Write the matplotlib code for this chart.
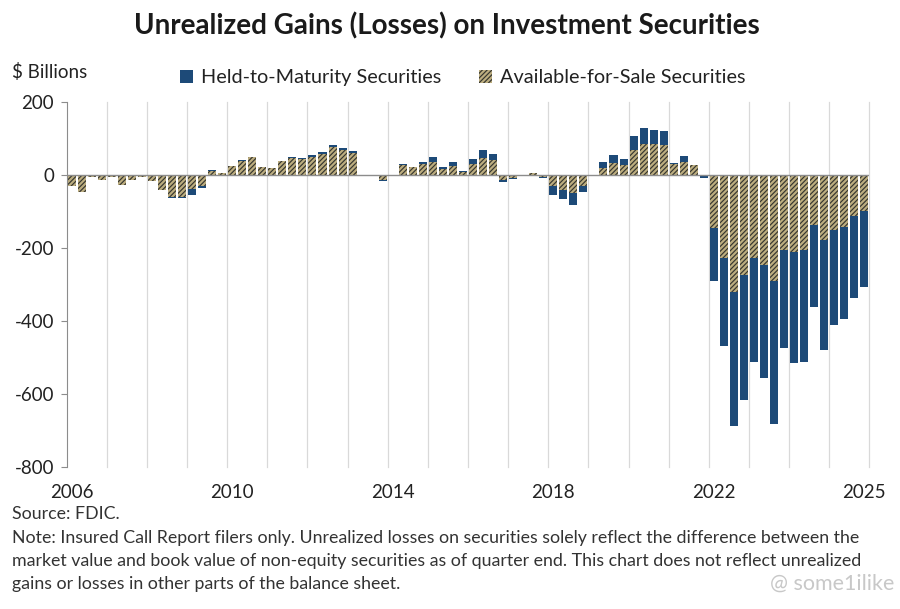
import numpy as np
import matplotlib.pyplot as plt
from matplotlib.patches import Patch

plt.rcParams['font.family'] = ['Lato', 'DejaVu Sans']
plt.rcParams['hatch.linewidth'] = 0.85
plt.rcParams['axes.unicode_minus'] = False

# quarterly data, 2006Q1 .. 2025Q4, $ billions
quarters = [f"{y}Q{q}" for y in range(2006, 2026) for q in range(1, 5)]

afs = [-30, -46, -5, -14, -6, -27, -15, -5, -18, -43, -62, -60, -40, -32, 11, 4,
       23, 39, 48, 21, 18, 37, 47, 44, 50, 56, 75, 68, 60, -3, -3, -15,
       -3, 27, 20, 30, 36, 17, 23, 8, 30, 46, 40, -14, -8, -2, 4, -6,
       -32, -41, -50, -32, -2, 18, 33, 28, 67, 85, 85, 82, 29, 36, 26, -3,
       -146, -228, -320, -274, -228, -247, -292, -205, -210, -205, -137, -178, -151, -142, -114, -100]

htm = [0, 0, 0, 0, 0, 0, 0, 0, 0, 0, -2, -4, -15, -5, 1, 1,
       1, 1, 1, 1, 1, 1, 2, 2, 4, 5, 6, 5, 4, -1, -1, -3,
       -1, 3, 2, 5, 12, 3, 12, 2, 14, 22, 18, -6, -4, 0, 1, -2,
       -23, -25, -32, -14, -1, 17, 20, 16, 38, 43, 38, 37, 3, 16, 2, -5,
       -146, -240, -367, -342, -283, -310, -391, -270, -304, -306, -225, -302, -260, -253, -222, -206]

tick_pos = [0, 16, 32, 48, 64, 79]
tick_lbl = ["2006", "2010", "2014", "2018", "2022", "2025"]

HTM_COL = "#1d4a78"
AFS_FACE = "#bcad7f"
AFS_HATCH = "#36362f"
GRID = "#d9d9d9"
AXC = "#8c8c8c"

afs = np.array(afs, dtype=float)
htm = np.array(htm, dtype=float)
x = np.arange(len(quarters))
bottom = np.where(np.sign(htm) == np.sign(afs), afs, 0)

fig = plt.figure(figsize=(9, 6.09), dpi=100)
ax = fig.add_axes([0.074, 0.233, 0.892, 0.600])

for k in range(1, 21):
    ax.axvline(4 * k - 0.5, color=GRID, lw=0.9, zorder=0, clip_on=False)

ax.bar(x, afs, width=0.8, color=AFS_FACE, edgecolor=AFS_HATCH, hatch="///////", lw=0, zorder=2)
ax.bar(x, htm, width=0.8, bottom=bottom, color=HTM_COL, lw=0, zorder=2)
ax.axhline(0, color=AXC, lw=1.0, zorder=3)

ax.set_xlim(-0.5, 79.5)
ax.set_ylim(-800, 200)
ax.set_yticks(range(-800, 201, 200))
ax.set_xticks(tick_pos)
ax.set_xticklabels(tick_lbl)
ax.tick_params(axis="x", length=0, labelsize=13.5, pad=12, colors="#222222")
ax.tick_params(axis="y", length=4, color=AXC, labelsize=13.5, pad=5, labelcolor="#222222")
for s in ["top", "right", "bottom"]:
    ax.spines[s].set_visible(False)
ax.spines["left"].set_color(AXC)

fig.text(0.497, 0.958, "Unrealized Gains (Losses) on Investment Securities",
         ha="center", va="center", fontsize=20, fontweight="bold", color="#1a1a1a")
fig.text(0.013, 0.882, "$ Billions", ha="left", va="center", fontsize=13.5, color="#222222")

handles = [Patch(facecolor=HTM_COL, lw=0, label="Held-to-Maturity Securities"),
           Patch(facecolor=AFS_FACE, edgecolor=AFS_HATCH, hatch="///////", lw=0,
                 label="Available-for-Sale Securities")]
fig.legend(handles=handles, loc="center", bbox_to_anchor=(0.514, 0.872), ncol=2,
           frameon=False, fontsize=14.3, handlelength=0.65, handleheight=0.65,
           handletextpad=0.4, columnspacing=1.9, labelcolor="#222222")

fig.text(0.013, 0.156, "Source: FDIC.", ha="left", va="center", fontsize=12.8, color="#333333")
note_lines = ["Note: Insured Call Report filers only. Unrealized losses on securities solely reflect the difference between the",
              "market value and book value of non-equity securities as of quarter end. This chart does not reflect unrealized",
              "gains or losses in other parts of the balance sheet."]
for i, line in enumerate(note_lines):
    fig.text(0.013, 0.117 - i * 0.0378, line, ha="left", va="center", fontsize=12.8, color="#333333")
fig.text(0.994, 0.042, "@ some1ilike", ha="right", va="center", fontsize=15.5, color="#c8c8c8")

fig.savefig("out.png", dpi=100)
